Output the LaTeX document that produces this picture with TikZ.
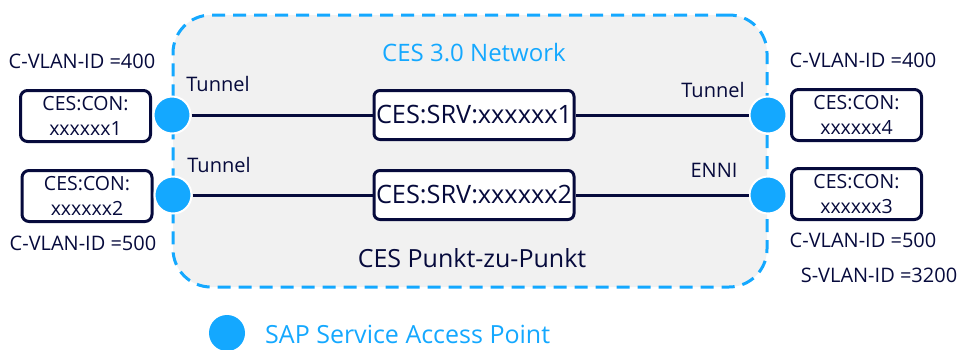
\documentclass[tikz,border=0pt]{standalone}
\usepackage{fontspec}
\setmainfont{Open Sans}
\definecolor{navy}{RGB}{6,10,60}
\definecolor{sapblue}{RGB}{20,168,255}
\definecolor{cloudgray}{RGB}{241,241,241}
\begin{document}
\begin{tikzpicture}[x=1pt,y=-1pt,
  netbox/.style={draw=sapblue, line width=3pt, dash pattern=on 13pt off 8pt, fill=cloudgray, rounded corners=38pt, minimum width=594pt, minimum height=272pt, inner sep=0pt},
  conbox/.style={draw=navy, line width=3pt, rounded corners=7pt, fill=white, minimum width=130pt, minimum height=51pt, inner sep=0pt, align=center, text=navy, font=\fontsize{19.5}{25}\selectfont},
  srvbox/.style={draw=navy, line width=3pt, rounded corners=6pt, fill=white, minimum width=200pt, minimum height=49pt, inner sep=0pt, text=navy, font=\fontsize{25.3}{28}\selectfont},
  sap/.style={circle, fill=sapblue, draw=white, line width=2pt, minimum size=37pt, inner sep=0pt},
  lbl/.style={text=navy, font=\fontsize{20}{23}\selectfont, inner sep=0pt, anchor=base},
  link/.style={draw=navy, line width=3pt},
]
\useasboundingbox (0,0) rectangle (959,349);
\node[netbox] (net) at (470,151) {};
\node[anchor=base, text=sapblue, font=\fontsize{24}{28}\selectfont, inner sep=0pt] (title) at (474,61) {CES 3.0 Network};
\node[anchor=base, text=navy, font=\fontsize{25}{28}\selectfont, inner sep=0pt] (sub) at (472,267) {CES Punkt-zu-Punkt};

\node[srvbox] (s1) at (474,115) {CES:SRV:xxxxxx1};
\node[srvbox] (s2) at (474,195) {CES:SRV:xxxxxx2};

\node[conbox] (c1) at (85.5,116) {CES:CON:\\xxxxxx1};
\node[conbox] (c2) at (87,196) {CES:CON:\\xxxxxx2};
\node[conbox] (c4) at (856.5,115) {CES:CON:\\xxxxxx4};
\node[conbox] (c3) at (856.5,194) {CES:CON:\\xxxxxx3};

\node[sap] (p1) at (172,115) {};
\node[sap] (p2) at (173,195) {};
\node[sap] (p4) at (768,115) {};
\node[sap] (p3) at (768,195) {};

\draw[link] (p1) -- (s1);
\draw[link] (s1) -- (p4);
\draw[link] (p2) -- (s2);
\draw[link] (s2) -- (p3);

\node[lbl] (v1) at (82,68) {C-VLAN-ID =400};
\node[lbl] (v2) at (863,67) {C-VLAN-ID =400};
\node[lbl] (v3) at (83,250) {C-VLAN-ID =500};
\node[lbl] (v4) at (863,247) {C-VLAN-ID =500};
\node[lbl] (v5) at (879,282) {S-VLAN-ID =3200};
\node[lbl] (t1) at (218,91) {Tunnel};
\node[lbl] (t2) at (219,172) {Tunnel};
\node[lbl] (t3) at (713,97) {Tunnel};
\node[lbl] (t4) at (714,177) {ENNI};

\node[sap, draw=none, minimum size=36pt] (leg) at (227,333) {};
\node[anchor=base west, text=sapblue, font=\fontsize{25}{28}\selectfont, inner sep=0pt] (legtext) at (265,343) {SAP Service Access Point};
\end{tikzpicture}
\end{document}
